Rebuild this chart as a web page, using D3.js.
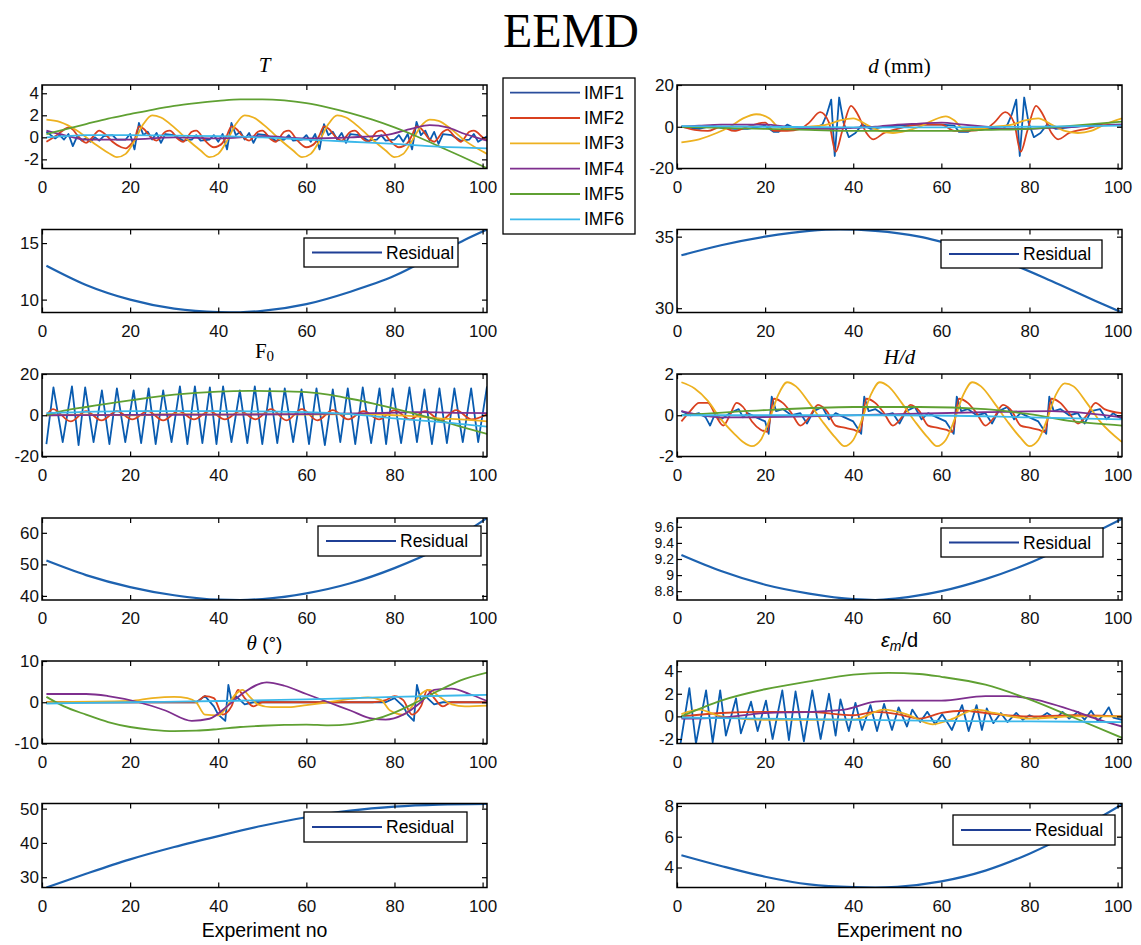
<!DOCTYPE html>
<html>
<head>
<meta charset="utf-8">
<script src="https://cdn.jsdelivr.net/npm/d3@7"></script>
<style>
body { margin: 0; background: #fff; }
text { font-family: "Liberation Sans", Arial, sans-serif; }
</style>
</head>
<body>
<svg id="chart" width="1141" height="945"></svg>
<script>
// ---- data ----
var imfNames = ["IMF1", "IMF2", "IMF3", "IMF4", "IMF5", "IMF6"];
var xTicks = [0, 20, 40, 60, 80, 100];

// T
var T_imf1 = [[1,0.5],[2,0.2],[3,-0.1],[4,0.2],[5,-0.2],[6,0.3],[7,-0.8],[8,0.1],[9,-0.3],[10,-0.1],[11,-0.4],[12,0],[13,-0.3],[14,0.1],[16,0.2],[17,-0.2],[19,-0.2],[20,0.3],[21,-1.1],[22,1.3],[23,0.2],[24,0.5],[25,-0.2],[26,0.4],[27,-0.5],[28,0.3],[30,0.2],[32,-0.3],[34,-0.2],[35,0.2],[36,-0.3],[38,-0.2],[39,0.2],[40,-0.4],[41,0.3],[42,-1.1],[43,1.3],[44,0.2],[45,0.5],[46,-0.2],[47,0.4],[48,-0.5],[49,0.3],[51,0.2],[53,-0.3],[55,-0.2],[56,0.2],[57,-0.3],[59,-0.2],[60,0.2],[61,-0.4],[62,0.3],[63,-1.1],[64,1.2],[65,0.2],[66,0.5],[67,-0.2],[68,0.4],[69,-0.5],[70,0.3],[72,0.2],[74,-0.3],[76,-0.2],[77,0.2],[78,-0.3],[80,-0.2],[81,0.2],[82,-0.4],[83,0.3],[84,-1.1],[85,1.4],[86,0.2],[87,0.6],[88,-0.3],[89,0.5],[90,-0.6],[91,0.3],[93,0.2],[95,-0.3],[97,-0.2],[98,0.3],[99,-0.4],[101,0.1]];
var T_imf2 = [[1,-0.4],[3,0.1],[5,0.7],[6,0.9],[7,0.7],[8,0.2],[10,-0.5],[11,-0.2],[13,0.6],[14,0.4],[16,-0.4],[18,-0.9],[19,-1.0],[20,-0.7],[21,-0.2],[22,1.0],[23,0.8],[25,-0.1],[26,-0.3],[28,0.5],[29,0.6],[31,-0.2],[32,-0.4],[34,0.5],[35,0.6],[37,-0.3],[39,-0.9],[40,-0.8],[41,-0.5],[42,0.2],[43,1.0],[44,0.8],[46,-0.1],[47,-0.3],[49,0.5],[50,0.6],[52,-0.2],[53,-0.4],[55,0.5],[56,0.6],[58,-0.3],[60,-0.9],[61,-0.8],[62,-0.5],[63,0.2],[64,1.0],[65,0.8],[67,-0.1],[68,-0.3],[70,0.5],[71,0.6],[73,-0.2],[74,-0.4],[76,0.5],[77,0.6],[79,-0.3],[81,-0.9],[82,-0.8],[83,-0.5],[84,0.2],[85,1.0],[86,0.8],[88,-0.2],[89,-0.4],[91,0.5],[92,0.7],[94,-0.1],[95,-0.4],[97,0.5],[98,0.6],[100,0],[101,-0.3]];
var T_imf3 = [[1,1.6],[4,1.4],[8,0.6],[12,-0.6],[15,-1.4],[17,-1.8],[19,-1.5],[21,-0.3],[23,1.2],[25,2.0],[27,1.8],[30,0.9],[33,-0.2],[36,-1.2],[38,-1.8],[40,-1.5],[42,-0.3],[44,1.2],[46,2.0],[48,1.8],[51,0.9],[54,-0.2],[57,-1.2],[59,-1.8],[61,-1.5],[63,-0.3],[65,1.2],[67,2.0],[69,1.8],[72,0.9],[75,-0.2],[78,-1.2],[80,-1.8],[82,-1.5],[84,-0.3],[86,1.0],[88,1.6],[90,1.5],[93,0.7],[96,-0.3],[101,-1.5]];
var T_imf4 = [[1,0.6],[5,0.2],[10,-0.2],[20,-0.2],[30,0],[40,-0.1],[50,0.1],[60,-0.1],[70,0],[78,0.2],[84,0.8],[88,1.1],[92,0.9],[96,0.3],[101,-0.3]];
var T_imf5 = [[1,0.3],[5,0.7],[10,1.2],[15,1.7],[20,2.1],[25,2.5],[30,2.85],[35,3.1],[40,3.3],[45,3.45],[50,3.45],[55,3.35],[60,3.1],[65,2.7],[70,2.2],[75,1.6],[80,0.9],[85,0.1],[90,-0.8],[95,-1.7],[101,-2.8]];
var T_imf6 = [[1,0],[5,0.1],[10,0.2],[20,0.2],[30,0.15],[40,0.1],[50,0],[60,-0.2],[70,-0.4],[80,-0.6],[90,-0.85],[101,-1.0]];
var T_res = [[1,13],[10,11.3],[20,10],[30,9.2],[40,8.9],[45,8.88],[50,9],[60,9.6],[70,10.7],[80,12.1],[90,14.1],[96,15.3],[101,16.2]];

// d (mm)
var d_imf1 = [[1,0],[5,-1],[8,0.5],[10,-0.5],[13,-1],[16,-1],[20,0.5],[22,-2.5],[23,-2.5],[25,1],[27,-1],[30,-1],[32,0],[33,1],[34,6],[35,13],[35.8,-14],[36.8,14],[37.8,2],[39,-5],[40.5,-3],[42,1],[44,-1],[47,0],[50,0.5],[55,1],[60,1],[63,0.5],[64,-2.5],[66,-2.5],[68,0],[70,-1],[74,-1],[75,1],[76,6],[77,13],[77.8,-14],[78.8,14],[79.8,2],[81,-5],[82.5,-3],[84,1],[86,-1],[90,0],[95,1],[101,1]];
var d_imf2 = [[1,0],[4,-1.5],[7,-2],[10,0],[13,-2],[16,0],[20,2],[22,-2],[25,-2],[28,-1],[30,2],[32.5,7],[34.5,2],[36,-12],[37.5,-2],[39.5,10],[41,6],[43,-3],[44.5,-6],[47,-3],[50,-1],[55,1],[60,1],[63,-2],[66,-2],[70,-1],[72,2],[74.5,7],[76.5,2],[78,-12],[79.5,-2],[81.5,10],[83,6],[85,-3],[86.5,-6],[89,-3],[93,-1],[97,1],[101,0.5]];
var d_imf3 = [[1,-7.5],[5,-6],[9,-3],[12,0],[15,4],[18,6],[21,4],[23,0],[26,-1],[30,0],[34,1],[37,3],[40,4],[43,1],[46,-2],[49,-3],[52,-2],[55,0],[58,3],[61,5],[63,3],[65,-1],[68,-1],[72,0],[76,1],[79,3],[82,4],[85,1],[88,-2],[91,-3],[94,-2],[97,1],[101,4]];
var d_imf4 = [[1,0],[5,0.5],[10,1],[15,1],[20,1],[25,0],[30,-1],[35,-1],[40,-0.5],[45,0],[50,1],[55,1.5],[60,2],[65,1],[70,0],[75,-1],[80,-1],[85,-0.5],[90,0],[95,0.5],[101,1]];
var d_imf5 = [[1,0],[10,-0.5],[20,-1],[30,-1.5],[40,-2],[50,-2],[60,-2],[70,-1.5],[80,-1],[90,0.5],[101,2.5]];
var d_imf6 = [[1,0.3],[20,0],[40,-0.3],[60,-0.3],[80,0],[101,0.5]];
var d_res = [[1,33.7],[10,34.4],[20,35],[30,35.4],[37,35.5],[45,35.4],[55,35],[65,34.2],[75,33.2],[85,31.9],[95,30.5],[101,29.7]];

// F0
var F_imf1 = [[1,-14],[2.6,13.5],[4.7,-13],[6.8,14],[8.3,-14.5],[9.8,13.5],[11.7,-13],[13.6,12],[15.3,-14],[17,13],[18.9,-13],[20.8,12],[22.5,-13.5],[24.2,13],[25.8,-14],[27.5,12],[29.4,-13],[31.3,14],[33,-14],[34.7,14],[36.4,-13.5],[38.1,13.5],[39.6,-14],[41.1,14],[43,-13],[44.9,12],[46.6,-13.5],[48.3,14],[50,-14],[51.7,13],[53.4,-13.5],[55.1,13],[57,-13],[58.9,12.5],[60.6,-14],[62.3,13],[64.2,-14.5],[66,12.5],[67.7,-13],[69.4,13],[71.1,-14],[72.8,13.5],[74.7,-13.5],[76.6,13],[78.1,-14],[79.6,13],[81.5,-13.5],[83.4,13.5],[85.1,-13],[86.8,12.5],[88.5,-14],[90.2,13],[91.9,-13.5],[93.6,13],[95.5,-13],[97.4,13],[99,-13],[101,14]];
var F_imf2 = [[1,0],[2.5,3],[6.5,-3],[10,2],[13.5,-2.5],[17,2],[20.5,-2],[24,2],[27.5,-2.5],[31,2],[34.5,-2],[38,2],[41.5,-2],[45,2],[48.5,-2],[52,3],[55.5,-2.5],[59,3],[62.5,-2.5],[66,2.5],[69.5,-2],[73,2],[76.5,-2],[80,2.5],[83.5,-2],[87,2],[90.5,-2.5],[94,2.5],[97.5,-2],[101,0.5]];
var F_imf3 = [[1,0],[10,0.3],[20,0],[30,0.5],[40,0.3],[50,0.5],[60,0.3],[70,0.5],[80,0],[85,-0.5],[90,-1.5],[95,-2],[101,-3]];
var F_imf4 = [[1,0],[20,0.2],[40,0.3],[60,0.5],[75,1],[85,1.5],[95,1.2],[101,1]];
var F_imf5 = [[1,0],[5,2.2],[10,4],[20,7.2],[30,10],[40,11.5],[47,11.8],[55,11.6],[60,11.2],[65,10],[70,8],[75,5.8],[80,3.2],[85,0.5],[90,-2.4],[95,-5.5],[101,-9]];
var F_imf6 = [[1,1],[20,2],[40,2],[60,1.5],[70,0.5],[80,-1.5],[90,-3.2],[101,-5.5]];
var F_res = [[1,51.2],[10,46.6],[20,42.8],[30,40.2],[40,38.8],[45,38.7],[50,39],[60,40.8],[70,44],[80,48.8],[90,55],[101,64.7]];

// H/d
var H_imf1 = [[1,0.2],[3,0],[5,0.1],[6.5,-0.1],[7.5,-0.5],[8.5,0],[10,-0.2],[12,0.1],[14,0.3],[15,-0.1],[16,0.1],[18,-0.1],[20,-0.3],[20.8,-0.9],[21.5,0.9],[22.5,0.2],[24,0.3],[26,0],[28,0.1],[29.5,-0.4],[31,0.2],[33,0.4],[34.5,-0.2],[36,0.1],[38,-0.1],[40,-0.3],[41.8,-0.9],[42.5,0.9],[43.5,0.2],[45,0.3],[47,0],[49,0.1],[50.5,-0.4],[52,0.2],[54,0.4],[55.5,-0.2],[57,0.1],[59,-0.1],[61,-0.3],[62.8,-0.9],[63.5,0.9],[64.5,0.2],[66,0.3],[68,0],[70,0.1],[71.5,-0.4],[73,0.2],[75,0.4],[76.5,-0.2],[78,0.1],[80,-0.1],[82,-0.3],[83.8,-0.9],[84.5,0.9],[85.5,0.2],[87,0.3],[89,0],[91,0.1],[92.5,-0.4],[94,0.2],[96,0.3],[97.5,-0.2],[99,0.1],[101,-0.2]];
var H_imf2 = [[1,-0.3],[3,0.2],[5,0.6],[7,0.6],[9,-0.1],[10.5,-0.5],[12,0],[13.5,0.6],[15,0.4],[17,-0.3],[19,-0.7],[20.5,-0.8],[22,0.8],[24,0.6],[26,0.1],[28,-0.5],[30,-0.1],[32,0.5],[34,0.2],[36,-0.5],[38,-0.6],[40,-0.7],[41.5,-0.8],[43,0.8],[45,0.6],[47,0.1],[49,-0.5],[51,-0.1],[53,0.5],[55,0.2],[57,-0.5],[59,-0.6],[61,-0.7],[62.5,-0.8],[64,0.8],[66,0.6],[68,0.1],[70,-0.5],[72,-0.1],[74,0.5],[76,0.2],[78,-0.5],[80,-0.6],[82,-0.7],[83.5,-0.8],[85,0.8],[87,0.6],[89,0.1],[91,-0.4],[93,0],[95,0.6],[97,0.3],[101,0.1]];
var H_imf3 = [[1,1.6],[4,1.3],[7,0.7],[10,-0.2],[13,-0.9],[15,-1.3],[17,-1.5],[19,-1.2],[21,-0.2],[23,1.0],[25,1.6],[27,1.4],[30,0.6],[33,-0.3],[36,-1.1],[38,-1.5],[40,-1.2],[42,-0.2],[44,1.0],[46,1.6],[48,1.4],[51,0.6],[54,-0.3],[57,-1.1],[59,-1.5],[61,-1.2],[63,-0.2],[65,1.0],[67,1.6],[69,1.4],[72,0.6],[75,-0.3],[78,-1.1],[80,-1.5],[82,-1.2],[84,-0.2],[86,1.0],[88,1.55],[90,1.4],[93,0.6],[96,-0.3],[101,-1.3]];
var H_imf4 = [[1,0.2],[10,-0.1],[30,-0.05],[50,0.05],[70,0.15],[85,0.2],[101,-0.1]];
var H_imf5 = [[1,0],[20,0.25],[40,0.4],[55,0.4],[70,0.3],[80,0.05],[90,-0.3],[101,-0.5]];
var H_imf6 = [[1,0],[50,0],[80,-0.1],[101,-0.2]];
var H_res = [[1,9.25],[10,9.05],[20,8.88],[30,8.77],[40,8.7],[45,8.69],[50,8.71],[60,8.8],[70,8.95],[80,9.15],[90,9.4],[101,9.7]];

// theta
var th_imf1 = [[1,0],[30,0],[35,0],[37,1.5],[39,-1],[40,-3],[41.6,-4.5],[42.3,4.2],[43,0.5],[44,1.5],[46,-0.5],[48,0],[60,0],[78,0],[80,1],[82,-1],[83,-3],[84.4,-4.5],[85.1,4.2],[86,0.5],[87,1.5],[89,-0.5],[91,0],[101,0]];
var th_imf2 = [[1,0],[30,0],[35,0],[37,1.5],[39,1],[41,-3],[43,-1],[44.5,3],[46,1],[48,-1],[50,0],[60,0],[75,0],[78,0.5],[80,1.5],[82,0.5],[84,-3],[86,-1],[87.5,3],[89,1],[91,-1],[93,0],[101,0]];
var th_imf3 = [[1,0],[20,0.3],[25,1],[30,1.3],[33,1],[35,0],[37,-3],[40,-3.2],[42,-1],[44,2],[45.5,3],[47,1.5],[49,-0.5],[52,-1.2],[56,-1.2],[60,-0.7],[65,0],[70,0.8],[74,1.2],[77,0.5],[79,-2],[82,-3],[84,-1],[86,2],[88,3],[90,1.5],[93,-0.5],[96,-1],[101,-0.8]];
var th_imf4 = [[1,2],[10,2],[15,1.5],[22,0],[28,-2],[34,-4.5],[38,-4],[42,-1],[46,2.5],[51,4.8],[55,4],[60,2],[65,0],[70,-2],[75,-4],[78,-4.2],[82,-3],[86,0],[89,3],[93,3.3],[97,2],[101,0.3]];
var th_imf5 = [[1,1.3],[5,-1],[10,-3],[15,-4.8],[20,-6],[25,-6.7],[30,-7],[35,-6.9],[40,-6.5],[45,-6],[50,-5.7],[55,-5.5],[60,-5.4],[65,-5.6],[70,-5.3],[75,-4.3],[80,-2.5],[85,0],[90,2.8],[95,5.3],[101,7.2]];
var th_imf6 = [[1,-0.3],[20,0],[40,0.3],[60,0.7],[80,1.3],[101,1.8]];
var th_res = [[1,27],[10,31],[20,35.2],[30,38.8],[40,42],[50,45],[60,47.5],[70,49.4],[80,50.6],[90,51.2],[101,51.4]];

// epsilon_m / d
var e_imf1 = [[0.8,-2.4],[2.8,2.5],[4.3,-2.4],[6.6,2.3],[8.1,-2.3],[9.8,2.3],[11.1,-1.7],[13.4,1.6],[14.5,-1.5],[16.8,1.3],[18.3,-1.3],[20.2,1.4],[21.7,-2.0],[23.9,2.3],[25.4,-2.1],[26.9,2.2],[28.8,-2.2],[30.7,2.3],[32.6,-2.0],[34.5,2.0],[36,-1.7],[37.1,1.5],[39,-1.3],[40.5,1.2],[42,-1.2],[43.9,1.0],[45.4,-1.3],[47,1.1],[48.8,-1.2],[50.3,0.8],[52.2,-0.9],[53.4,0.6],[55.2,-0.5],[56.8,0.4],[58.6,-0.7],[60.2,0.2],[62.4,-1.2],[64.7,1.0],[66.2,-1.3],[68,1.0],[69.2,-1.2],[70.3,0.7],[71.8,-0.6],[73.5,0.3],[75,-0.5],[77,0.3],[78.5,-0.3],[80,0.1],[82,-0.2],[84,0.3],[86,-0.2],[87.5,0.4],[89,-0.2],[91,0.4],[92.5,-0.3],[94,0.5],[95.5,-0.4],[97,0.2],[98,0.8],[99,-0.1],[101,-0.3]];
var e_imf2 = [[1,0],[10,0.3],[20,0.4],[30,0.4],[40,0.1],[45,0.4],[50,0.2],[55,-0.2],[60,0.3],[65,0.5],[70,0.3],[80,0],[90,0.1],[101,0]];
var e_imf3 = [[1,0.2],[5,0.6],[10,0],[20,-0.3],[30,-0.3],[40,-0.3],[47,0.6],[52,0.2],[58,-0.7],[62,-0.3],[68,0.6],[72,0.3],[80,-0.2],[90,0],[101,0]];
var e_imf4 = [[1,-0.2],[10,-0.1],[20,0.3],[30,0.4],[38,0.6],[45,1.3],[50,1.4],[60,1.4],[70,1.8],[75,1.8],[80,1.6],[90,0.5],[95,-0.2],[101,-0.9]];
var e_imf5 = [[1,0],[10,1.4],[20,2.4],[30,3.1],[40,3.7],[48,3.85],[55,3.75],[60,3.5],[70,2.8],[80,1.5],[90,-0.1],[101,-1.9]];
var e_imf6 = [[1,-0.1],[20,-0.2],[40,-0.3],[60,-0.4],[80,-0.45],[101,-0.5]];
var e_res = [[1,4.8],[10,4.1],[20,3.4],[30,2.9],[40,2.72],[45,2.7],[50,2.75],[60,3.1],[70,3.8],[80,4.9],[90,6.3],[101,8.1]];

// ---- layout / styles ----
var imfColors = ["#0a5cb0", "#d9401f", "#edb120", "#7e2f8e", "#5fa032", "#3bb8ea"];
var resColor = "#1d62b0";
var cols = [[42, 487], [677, 1122]];
var rows = [[85, 168.5], [229.5, 312.5], [374, 456.5], [518, 600], [661, 743.5], [803.5, 887.5]];

var panels = [
	{col: 0, row: 0, series: [T_imf1, T_imf2, T_imf3, T_imf4, T_imf5, T_imf6], y: [-2.83, 4.75], ticks: [-2, 0, 2, 4], title: "T"},
	{col: 0, row: 1, series: [T_res], y: [8.86, 16.2], ticks: [10, 15], legend: [304, 238, 458, 267]},
	{col: 0, row: 2, series: [F_imf1, F_imf2, F_imf3, F_imf4, F_imf5, F_imf6], y: [-20, 20], ticks: [-20, 0, 20], title: "F0"},
	{col: 0, row: 3, series: [F_res], y: [38.7, 64.7], ticks: [40, 50, 60], legend: [318, 526, 481, 556]},
	{col: 0, row: 4, series: [th_imf1, th_imf2, th_imf3, th_imf4, th_imf5, th_imf6], y: [-10, 10], ticks: [-10, 0, 10], title: "theta"},
	{col: 0, row: 5, series: [th_res], y: [27, 51.5], ticks: [30, 40, 50], legend: [304, 812, 467, 842]},
	{col: 1, row: 0, series: [d_imf1, d_imf2, d_imf3, d_imf4, d_imf5, d_imf6], y: [-20, 20], ticks: [-20, 0, 20], title: "d"},
	{col: 1, row: 1, series: [d_res], y: [29.7, 35.5], ticks: [30, 35], legend: [941, 240, 1102, 268]},
	{col: 1, row: 2, series: [H_imf1, H_imf2, H_imf3, H_imf4, H_imf5, H_imf6], y: [-2, 2], ticks: [-2, 0, 2], title: "H"},
	{col: 1, row: 3, series: [H_res], y: [8.69, 9.71], ticks: [8.8, 9, 9.2, 9.4, 9.6], legend: [941, 528, 1103, 557], tickFont: 14},
	{col: 1, row: 4, series: [e_imf1, e_imf2, e_imf3, e_imf4, e_imf5, e_imf6], y: [-2.4, 4.9], ticks: [-2, 0, 2, 4], title: "eps"},
	{col: 1, row: 5, series: [e_res], y: [2.7, 8.16], ticks: [4, 6, 8], legend: [953, 815, 1115, 845]}
];

var svg = d3.select("#chart");
var fs = 17;

svg.append("text")
	.attr("x", 571).attr("y", 47)
	.attr("text-anchor", "middle")
	.style("font-family", "'Liberation Serif', 'Times New Roman', serif")
	.style("font-size", "48px")
	.text("EEMD");

panels.forEach(function(p, i) {
	var xr = cols[p.col], yr = rows[p.row];
	var x = d3.scaleLinear().domain([0, 101]).range(xr);
	var y = d3.scaleLinear().domain(p.y).range([yr[1], yr[0]]);
	var g = svg.append("g");

	g.append("clipPath").attr("id", "clip" + i)
		.append("rect")
		.attr("x", xr[0]).attr("y", yr[0])
		.attr("width", xr[1] - xr[0]).attr("height", yr[1] - yr[0]);

	var smooth = d3.line()
		.x(function(d) { return x(d[0]); })
		.y(function(d) { return y(d[1]); })
		.curve(d3.curveMonotoneX);
	// IMF1 is jagged, keep straight segments
	var jagged = d3.line()
		.x(function(d) { return x(d[0]); })
		.y(function(d) { return y(d[1]); });

	var isRes = p.series.length == 1;
	g.append("g").attr("clip-path", "url(#clip" + i + ")")
		.selectAll("path")
		.data(p.series)
		.enter().append("path")
		.attr("d", function(d, k) { return (!isRes && k == 0) ? jagged(d) : smooth(d); })
		.attr("fill", "none")
		.attr("stroke", function(d, k) { return isRes ? resColor : imfColors[k]; })
		.attr("stroke-width", isRes ? 2.2 : 1.8)
		.attr("stroke-linejoin", "round");

	// axes, ticks pointing inwards like matlab
	var fmt = function(d) { return String(d); };
	g.append("g").attr("class", "xaxis").attr("transform", "translate(0," + yr[1] + ")")
		.call(d3.axisBottom(x).tickValues(xTicks).tickSizeInner(-5).tickSizeOuter(0).tickPadding(12).tickFormat(fmt));
	g.append("g").attr("transform", "translate(0," + yr[0] + ")")
		.call(d3.axisTop(x).tickValues(xTicks).tickSizeInner(-5).tickSizeOuter(0).tickFormat(""));
	var ay = g.append("g").attr("class", "yaxis").attr("transform", "translate(" + xr[0] + ",0)")
		.call(d3.axisLeft(y).tickValues(p.ticks).tickSizeInner(-5).tickSizeOuter(0).tickPadding(3).tickFormat(fmt));
	g.append("g").attr("transform", "translate(" + xr[1] + ",0)")
		.call(d3.axisRight(y).tickValues(p.ticks).tickSizeInner(-5).tickSizeOuter(0).tickFormat(""));
	g.selectAll(".domain").remove();
	g.selectAll(".tick line").attr("stroke", "#000").attr("stroke-width", 1.2);
	g.selectAll(".tick text")
		.style("font-family", "'Liberation Sans', Arial, sans-serif")
		.style("font-size", fs + "px")
		.attr("fill", "#111");
	if (p.tickFont) ay.selectAll(".tick text").style("font-size", p.tickFont + "px");

	g.append("rect")
		.attr("x", xr[0]).attr("y", yr[0])
		.attr("width", xr[1] - xr[0]).attr("height", yr[1] - yr[0])
		.attr("fill", "none").attr("stroke", "#000").attr("stroke-width", 1.5);

	if (p.legend) {
		var L = p.legend;
		g.append("rect")
			.attr("x", L[0]).attr("y", L[1])
			.attr("width", L[2] - L[0]).attr("height", L[3] - L[1])
			.attr("fill", "#fff").attr("stroke", "#000").attr("stroke-width", 1.3);
		var my = (L[1] + L[3]) / 2;
		g.append("line")
			.attr("x1", L[0] + 8).attr("x2", L[0] + 78)
			.attr("y1", my).attr("y2", my)
			.attr("stroke", "#1f3f95").attr("stroke-width", 1.8);
		g.append("text")
			.attr("x", L[0] + 82).attr("y", my).attr("dy", "0.35em")
			.style("font-size", "17.5px")
			.text("Residual");
	}

	if (p.title) {
		var cx = (xr[0] + xr[1]) / 2;
		var t = g.append("text")
			.attr("x", cx).attr("text-anchor", "middle")
			.style("font-family", "'Liberation Serif', 'Times New Roman', serif")
			.style("font-size", "21px");
		if (p.title == "T") {
			t.attr("y", 72).append("tspan").style("font-style", "italic").text("T");
		} else if (p.title == "d") {
			t.attr("y", 73);
			t.append("tspan").style("font-style", "italic").text("d");
			t.append("tspan").text(" (mm)");
		} else if (p.title == "F0") {
			t.attr("y", 358);
			t.append("tspan").text("F");
			t.append("tspan").attr("dy", 3).style("font-size", "15px").text("0");
		} else if (p.title == "H") {
			t.attr("y", 364).append("tspan").style("font-style", "italic").text("H/d");
		} else if (p.title == "theta") {
			t.attr("y", 650);
			t.append("tspan").style("font-style", "italic").text("θ");
			t.append("tspan").style("font-family", "'Liberation Sans', Arial, sans-serif").style("font-size", "19px").text(" (°)");
		} else if (p.title == "eps") {
			t.attr("y", 647).style("font-family", "'Liberation Sans', Arial, sans-serif").style("font-size", "20px");
			t.append("tspan").style("font-style", "italic").text("ε");
			t.append("tspan").attr("dy", 4).style("font-style", "italic").style("font-size", "14px").text("m");
			t.append("tspan").attr("dy", -4).text("/d");
		}
	}
});

// x axis label on the bottom panels
cols.forEach(function(c) {
	svg.append("text")
		.attr("x", (c[0] + c[1]) / 2).attr("y", 937)
		.attr("text-anchor", "middle")
		.style("font-size", "19.5px")
		.text("Experiment no");
});

// IMF legend between the two columns
var leg = svg.append("g");
leg.append("rect")
	.attr("x", 503).attr("y", 78).attr("width", 132).attr("height", 156)
	.attr("fill", "#fff").attr("stroke", "#000").attr("stroke-width", 1.3);
var ly = d3.scalePoint().domain(imfNames).range([92.7, 219.3]);
var items = leg.selectAll("g.item").data(imfNames).enter().append("g").attr("class", "item");
items.append("line")
	.attr("x1", 510).attr("x2", 580)
	.attr("y1", function(d) { return ly(d); }).attr("y2", function(d) { return ly(d); })
	.attr("stroke", function(d, k) { return k == 0 ? "#2a4d9c" : imfColors[k]; })
	.attr("stroke-width", 1.8);
items.append("text")
	.attr("x", 584).attr("y", function(d) { return ly(d); }).attr("dy", "0.35em")
	.style("font-size", "17.5px")
	.text(function(d) { return d; });
</script>
</body>
</html>
